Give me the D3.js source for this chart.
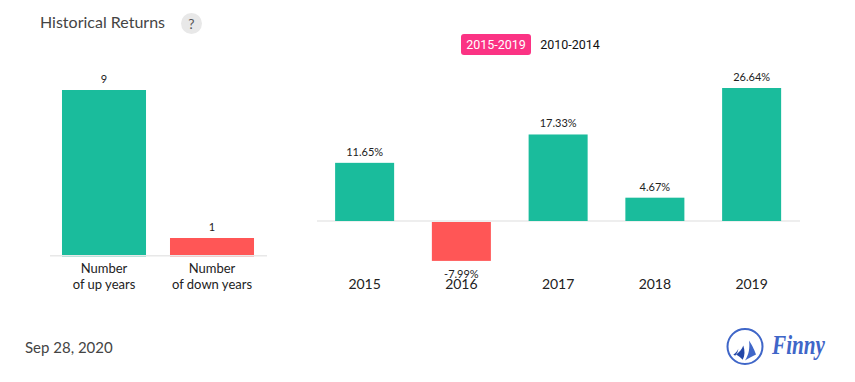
<!DOCTYPE html>
<html>
<head>
<meta charset="utf-8">
<script src="https://cdn.jsdelivr.net/npm/d3@7"></script>
<style>
  html, body { margin: 0; padding: 0; background: #fff; }
  svg { display: block; font-family: Lato, sans-serif; }
</style>
</head>
<body>
<div id="chart"></div>
<script>
const countLabels = [['Number', 'of up years'], ['Number', 'of down years']];
const countValues = [9, 1];
const years = ['2015', '2016', '2017', '2018', '2019'];
const returns = [11.65, -7.99, 17.33, 4.67, 26.64];
const ranges = ['2015-2019', '2010-2014'];

const width = 855, height = 382;
const green = '#1abc9c', red = '#ff5656', axis_color = '#e8e8e8';

let svg = d3.select('#chart').append('svg')
  .attr('width', width)
  .attr('height', height);

// header
svg.append('text')
  .attr('x', 40).attr('y', 28)
  .attr('font-size', 16).attr('fill', '#444')
  .text('Historical Returns');

svg.append('circle')
  .attr('cx', 191.5).attr('cy', 23.5).attr('r', 10.5)
  .attr('fill', '#e8e8e8');

svg.append('text')
  .attr('x', 191.5).attr('y', 29)
  .attr('text-anchor', 'middle')
  .attr('font-size', 14).attr('fill', '#555')
  .text('?');

// period switch
svg.append('rect')
  .attr('x', 461).attr('y', 34)
  .attr('width', 70).attr('height', 21).attr('rx', 3)
  .attr('fill', '#fb3384');

svg.selectAll('.range')
  .data(ranges)
  .enter().append('text')
    .attr('class', 'range')
    .attr('x', (d, i) => i ? 570 : 496)
    .attr('y', 49)
    .attr('text-anchor', 'middle')
    .attr('font-family', 'Roboto, sans-serif')
    .attr('font-size', 12.5)
    .attr('fill', (d, i) => i ? '#111' : '#fff')
    .text(d => d);

// left chart, up and down years
let cx = d3.scaleBand().domain(d3.range(countValues.length))
  .range([50, 266]).paddingInner(0.222).paddingOuter(0.111);
let cy = d3.scaleLinear().domain([0, 9]).range([256.5, 90]);

let left = svg.append('g').attr('class', 'counts');

left.selectAll('.bar')
  .data(countValues)
  .enter().append('rect')
    .attr('class', 'bar')
    .attr('x', (d, i) => cx(i))
    .attr('y', d => cy(d))
    .attr('width', cx.bandwidth())
    .attr('height', d => cy(0) - cy(d))
    .attr('fill', (d, i) => i ? red : green);

// the axis sits over the foot of the bars
left.append('line')
  .attr('x1', 50).attr('x2', 267)
  .attr('y1', cy(0) - 0.75).attr('y2', cy(0) - 0.75)
  .attr('stroke', axis_color).attr('stroke-width', 1.5);

left.selectAll('.value')
  .data(countValues)
  .enter().append('text')
    .attr('class', 'value')
    .attr('x', (d, i) => cx(i) + cx.bandwidth() / 2)
    .attr('y', d => cy(d) - 7)
    .attr('text-anchor', 'middle')
    .attr('font-size', 11).attr('fill', '#222')
    .text(d => d);

countLabels.forEach((lines, i) => {
  lines.forEach((line, j) => {
    left.append('text')
      .attr('x', cx(i) + cx.bandwidth() / 2)
      .attr('y', 273 + j * 16)
      .attr('text-anchor', 'middle')
      .attr('font-size', 13).attr('fill', '#222')
      .text(line);
  });
});

// right chart, yearly returns
let x = d3.scaleBand().domain(years)
  .range([316.25, 800]).paddingInner(0.39).paddingOuter(0.195);
let y = d3.scaleLinear().domain([0, 26.64]).range([221, 88]);

let right = svg.append('g').attr('class', 'returns');

right.append('line')
  .attr('x1', 317).attr('x2', 800)
  .attr('y1', y(0)).attr('y2', y(0))
  .attr('stroke', axis_color).attr('stroke-width', 1.5);

right.selectAll('.bar')
  .data(returns)
  .enter().append('rect')
    .attr('class', 'bar')
    .attr('x', (d, i) => x(years[i]))
    .attr('y', d => d < 0 ? y(0) + 1 : y(d))
    .attr('width', x.bandwidth())
    .attr('height', d => d < 0 ? y(d) - y(0) - 1 : y(0) - y(d))
    .attr('fill', d => d < 0 ? red : green);

right.selectAll('.value')
  .data(returns)
  .enter().append('text')
    .attr('class', 'value')
    .attr('x', (d, i) => x(years[i]) + x.bandwidth() / 2)
    .attr('y', d => d < 0 ? y(d) + 17 : y(d) - 7)
    .attr('text-anchor', 'middle')
    .attr('font-size', 11).attr('fill', '#222')
    .text(d => d + '%');

right.selectAll('.year')
  .data(years)
  .enter().append('text')
    .attr('class', 'year')
    .attr('x', d => x(d) + x.bandwidth() / 2)
    .attr('y', 289)
    .attr('text-anchor', 'middle')
    .attr('font-size', 14).attr('fill', '#222')
    .text(d => d);

// footer
svg.append('text')
  .attr('x', 25).attr('y', 353)
  .attr('font-size', 15).attr('fill', '#444')
  .text('Sep 28, 2020');

let logo = svg.append('g').attr('class', 'logo').attr('transform', 'translate(745,346.5)');

logo.append('circle')
  .attr('r', 17.5)
  .attr('fill', 'none').attr('stroke', '#3f66c8').attr('stroke-width', 2);

logo.append('path')
  .attr('d', 'M4,-6 C8,0 10,5 11,8 C7,10 3,12 0,14 C4,8 5,1 4,-6 Z')
  .attr('fill', '#3f66c8');
logo.append('path')
  .attr('d', 'M-1.7,-1 C0,4 0,9 -2.3,13.3 C-4,11 -7,9 -9,8 C-6,6 -3,3 -1.7,-1 Z')
  .attr('fill', '#2347a8');
logo.append('path')
  .attr('d', 'M-6.7,2.3 C-7.5,4.5 -9.5,7 -11.7,8 L-9.8,9.2 C-8,7 -7,5 -6.7,2.3 Z')
  .attr('fill', '#2347a8');

svg.append('text')
  .attr('x', 772).attr('y', 354)
  .attr('font-family', '"Liberation Serif", serif')
  .attr('font-style', 'italic').attr('font-weight', 'bold')
  .attr('font-size', 27).attr('fill', '#3f66c8')
  .attr('textLength', 53)
  .attr('lengthAdjust', 'spacingAndGlyphs')
  .text('Finny');
</script>
</body>
</html>
